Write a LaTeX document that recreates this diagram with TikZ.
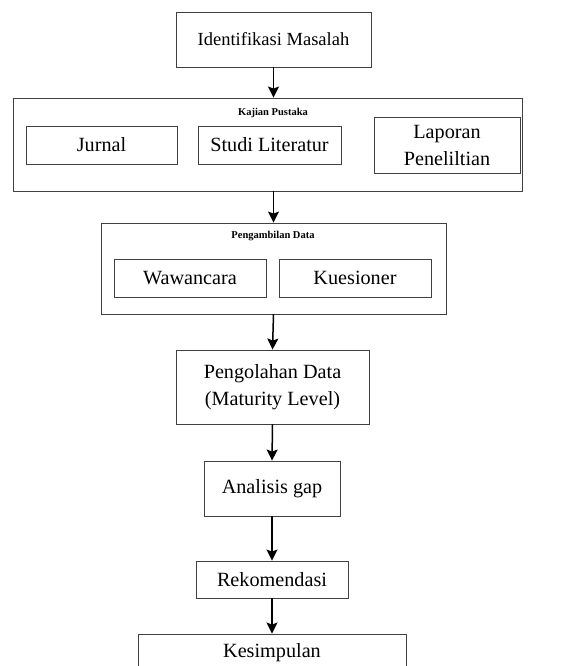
\documentclass[tikz,border=0pt]{standalone}
\usepackage{fontspec}
\setmainfont{Liberation Serif}
\usetikzlibrary{arrows.meta}
\tikzset{
  box/.style={draw=black!75, line width=0.9pt, fill=white, inner sep=0pt, align=center,
    font=\fontsize{20.2}{27}\selectfont},
  group/.style={draw=black!75, line width=0.9pt, inner sep=0pt},
  grouplabel/.style={inner sep=0pt, font=\fontsize{10.5}{12}\selectfont\bfseries},
  flow/.style={line width=1.5pt, -{Stealth[length=11pt,width=11pt,inset=2pt]}}
}
\begin{document}
\begin{tikzpicture}[x=1pt,y=-1pt]
\clip (0,0) rectangle (568,666);
\fill[white] (0,0) rectangle (568,666);
% top
\node[box, minimum width=195, minimum height=55, font=\fontsize{18.5}{24}\selectfont] (ident) at (273.5,39.5) {Identifikasi Masalah};
% Kajian Pustaka group
\node[group, minimum width=509, minimum height=93] (kajian) at (267.5,144.5) {};
\node[grouplabel] (kajianlbl) at (273,113) {Kajian Pustaka};
\node[box, minimum width=151, minimum height=38] (jurnal) at (101.5,145) {Jurnal};
\node[box, minimum width=143, minimum height=38] (studi) at (269.5,145) {Studi Literatur};
\node[box, minimum width=146, minimum height=56] (laporan) at (447,145) {Laporan\\Peneliltian};
% Pengambilan Data group
\node[group, minimum width=345, minimum height=91] (ambil) at (273.5,268.5) {};
\node[grouplabel] (ambillbl) at (273,236) {Pengambilan Data};
\node[box, minimum width=152, minimum height=38] (wawan) at (190,278) {Wawancara};
\node[box, minimum width=152, minimum height=38] (kues) at (355,278) {Kuesioner};
% rest
\node[box, minimum width=193, minimum height=74] (olah) at (272.5,387) {Pengolahan Data\\(Maturity Level)};
\node[box, minimum width=136, minimum height=55] (gap) at (272,488.5) {Analisis gap};
\node[box, minimum width=152, minimum height=37] (rekom) at (272,579.5) {Rekomendasi};
\node[box, minimum width=268, minimum height=38] (simpul) at (272,653) {Kesimpulan};
% arrows
\draw[flow] (ident.south) -- (ident.south |- kajian.north);
\draw[flow] (ambil.north |- kajian.south) -- (ambil.north);
\draw[flow] (ambil.south) -- (olah.north);
\draw[flow] (olah.south) -- (gap.north);
\draw[flow] (gap.south) -- (rekom.north);
\draw[flow] (rekom.south) -- (simpul.north);
\end{tikzpicture}
\end{document}
